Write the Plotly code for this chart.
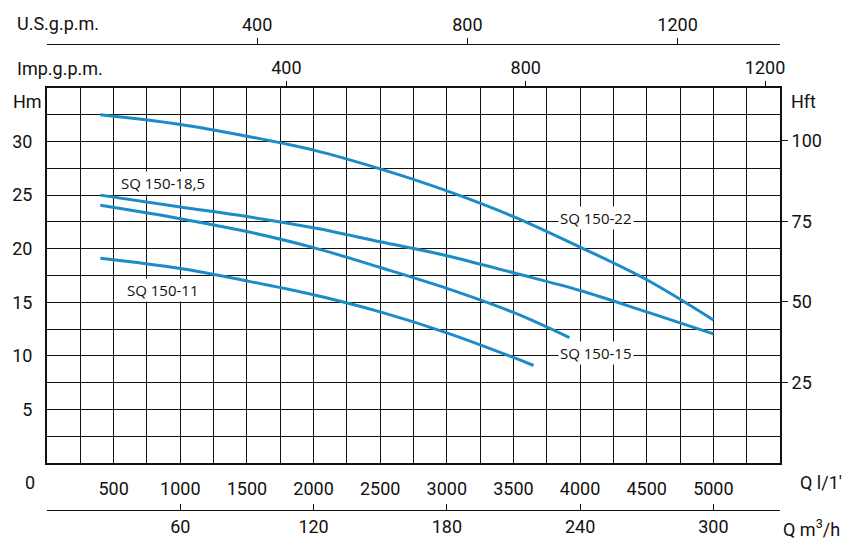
import plotly.graph_objects as go

# ---- data (Q in l/min, H in m) ----
q_22 = [400, 1000, 1500, 2000, 2500, 3000, 3500, 4000, 4500, 5000]
h_22 = [32.5, 31.6, 30.5, 29.2, 27.45, 25.4, 23.0, 20.15, 17.1, 13.35]

q_185 = [400, 1000, 1500, 2000, 2500, 3000, 3500, 4000, 4500, 5000]
h_185 = [25.0, 23.9, 23.0, 21.95, 20.65, 19.35, 17.75, 16.1, 14.1, 12.05]

q_15 = [400, 1000, 1500, 2000, 2500, 3000, 3500, 3920]
h_15 = [24.05, 22.8, 21.6, 20.1, 18.25, 16.3, 14.05, 11.7]

q_11 = [400, 1000, 1500, 2000, 2500, 3000, 3500, 3650]
h_11 = [19.1, 18.15, 17.0, 15.7, 14.1, 12.15, 9.85, 9.1]

curve_names = ["SQ 150-22", "SQ 150-18,5", "SQ 150-15", "SQ 150-11"]
label_q = [4120, 870, 4120, 870]
label_h = [22.9, 26.15, 10.3, 16.15]

q_grid = [i * 250 for i in range(23)]
q_labels = [str(v) if (v % 500 == 0 and 0 < v <= 5000) else "" for v in q_grid]
h_grid = [i * 2.5 for i in range(15)]
h_labels = [str(int(v)) if (v % 5 == 0 and 0 < v <= 30) else "" for v in h_grid]
hft_ticks = [25, 50, 75, 100]
imp_ticks = [400, 800, 1200]
us_ticks = [400, 800, 1200]
m3h_ticks = [60, 120, 180, 240, 300]

# axis ranges (as drawn on the reference chart)
Q_MAX = 5500
H_MAX = 35
HFT_MAX = 116.4
IMP_MAX = 1225
US_MAX = 1395
M3H_MAX = 330

BLUE = "#1b8cc8"
AX_FONT = dict(family="Roboto", size=18, color="#111")
LBL_FONT = dict(family="Open Sans, Noto Sans, DejaVu Sans", size=15, color="#111")

fig = go.Figure()
for q, h in [(q_22, h_22), (q_185, h_185), (q_15, h_15), (q_11, h_11)]:
    fig.add_trace(go.Scatter(x=q, y=h, mode="lines", line=dict(color=BLUE, width=3, shape="spline", smoothing=1.0),
                             hoverinfo="skip", showlegend=False))

# invisible traces to activate secondary axes
for xa, ya in [("x", "y2"), ("x2", "y"), ("x3", "y"), ("x4", "y")]:
    fig.add_trace(go.Scatter(x=[0], y=[0], xaxis=xa, yaxis=ya, mode="markers", marker=dict(opacity=0),
                             showlegend=False, hoverinfo="skip"))

T, B = 20, 20
H_PAPER = 553 - T - B
def frac(ypix):
    return (553 - B - ypix) / H_PAPER

dom = [frac(463), frac(88)]

fig.update_layout(
    width=857, height=553,
    margin=dict(l=45, r=77, t=T, b=B),
    paper_bgcolor="white", plot_bgcolor="white",
    showlegend=False,
    xaxis=dict(range=[0, Q_MAX], tickmode="array", tickvals=q_grid, ticktext=q_labels,
               showgrid=True, gridcolor="#111", gridwidth=1, showline=True, linecolor="#111", linewidth=2,
               mirror=True, ticks="", tickfont=AX_FONT, ticklabelstandoff=8, zeroline=False, fixedrange=True),
    yaxis=dict(range=[0, H_MAX], domain=dom, tickmode="array", tickvals=h_grid, ticktext=h_labels,
               showgrid=True, gridcolor="#111", gridwidth=1, showline=True, linecolor="#111", linewidth=2,
               mirror=True, ticks="", tickfont=AX_FONT, ticklabelstandoff=9, zeroline=False, fixedrange=True),
    yaxis2=dict(range=[0, HFT_MAX], overlaying="y", side="right", anchor="x", tickmode="array", tickvals=hft_ticks,
                ticks="outside", ticklen=7, tickwidth=1, tickcolor="#111", showgrid=False, zeroline=False,
                tickfont=AX_FONT, showline=False, fixedrange=True),
    xaxis2=dict(range=[0, IMP_MAX], overlaying="x", side="top", anchor="y", tickmode="array", tickvals=imp_ticks,
                ticks="outside", ticklen=6, tickwidth=1, tickcolor="#111", showgrid=False, zeroline=False,
                tickfont=AX_FONT, showline=False, fixedrange=True),
    xaxis3=dict(range=[0, US_MAX], overlaying="x", side="top", anchor="free", position=frac(44),
                tickmode="array", tickvals=us_ticks, ticks="outside", ticklen=6, tickwidth=1, tickcolor="#111",
                showgrid=False, zeroline=False, showline=True, linecolor="#111", linewidth=1.2,
                tickfont=AX_FONT, fixedrange=True),
    xaxis4=dict(range=[0, M3H_MAX], overlaying="x", side="bottom", anchor="free", position=frac(510),
                tickmode="array", tickvals=m3h_ticks, ticks="inside", ticklen=6, tickwidth=1, tickcolor="#111",
                showgrid=False, zeroline=False, showline=True, linecolor="#111", linewidth=1.2,
                tickfont=AX_FONT, fixedrange=True),
)

# curve labels
for name, lq, lh in zip(curve_names, label_q, label_h):
    fig.add_annotation(x=lq, y=lh, xref="x", yref="y", text=name, showarrow=False, font=LBL_FONT,
                       bgcolor="white", borderpad=1)

# paper coordinates are relative to the plotting area (margins excluded)
def ann_px(text, xpix, ypix, xanchor="left"):
    fig.add_annotation(x=(xpix - 45) / (857 - 45 - 77), y=frac(ypix), xref="paper", yref="paper",
                       text=text, showarrow=False, font=AX_FONT, xanchor=xanchor, yanchor="middle")

ann_px("U.S.g.p.m.", 13, 23)
ann_px("Imp.g.p.m.", 13, 68)
ann_px("Hm", 9, 101)
ann_px("Hft", 789, 101)
ann_px("0", 28, 482, xanchor="center")
ann_px("Q l/1'", 798, 482)
ann_px("Q m<sup>3</sup>/h", 781, 528)

fig.write_html("out.html")
